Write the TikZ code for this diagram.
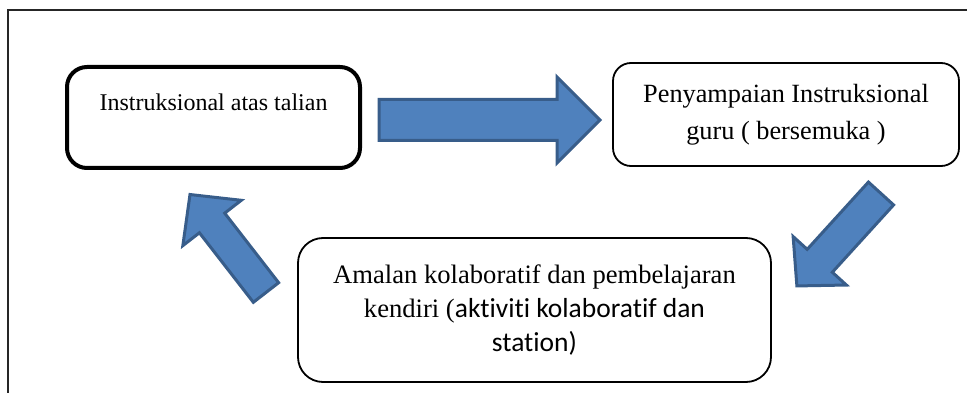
\documentclass[tikz,border=0pt]{standalone}
\usepackage{fontspec}
\setmainfont{Liberation Serif}
\newfontfamily\carlito[Ligatures=NoCommon]{Carlito}
\newcommand\calibpart{\carlito\fontsize{27.5}{34}\selectfont}
\definecolor{arrowfill}{HTML}{4F81BD}
\definecolor{arrowline}{HTML}{385D8A}

\begin{document}
\begin{tikzpicture}[x=1pt,y=-1pt,
	box/.style={draw,rounded corners=20pt,align=center,inner sep=0pt},
	blockarrow/.style={fill=arrowfill,draw=arrowline,line width=3pt,line join=miter}]
		\useasboundingbox (0,0) rectangle (967,393);
		\draw[line width=1.5pt,black!85] (8,393) -- (8,10) -- (967,10);
		\node[box,line width=4pt,minimum width=293pt,minimum height=101pt,text height=16pt,text depth=29pt,font=\fontsize{24}{28}\selectfont] (online) at (213.5,117.5) {Instruksional atas talian};
		\node[box,line width=1.8pt,rounded corners=18pt,minimum width=346pt,minimum height=103pt,font=\fontsize{26.3}{37}\selectfont] (guru) at (786,114.5) {Penyampaian Instruksional\\guru ( bersemuka )};
		\node[box,line width=1.8pt,rounded corners=25pt,minimum width=473pt,minimum height=144pt,font=\fontsize{26.6}{34}\selectfont] (amalan) at (534.5,310) {Amalan kolaboratif dan pembelajaran\\kendiri ({\calibpart aktiviti kolaboratif dan}\\{\calibpart station)}};
		% block arrows
		\draw[blockarrow,shift={(379,120)}] (0,-20.5) -- (178,-20.5) -- (178,-43) -- (221,0) -- (178,43) -- (178,20.5) -- (0,20.5) -- cycle;
		\draw[blockarrow,shift={(881,193.5)},rotate=227.7] (0,-17) -- (91,-17) -- (91,-36) -- (125,0) -- (91,36) -- (91,17) -- (0,17) -- cycle;
		\draw[blockarrow,shift={(266,292.5)},rotate=127.8] (0,-16) -- (88,-16) -- (88,-37) -- (124,0) -- (88,37) -- (88,16) -- (0,16) -- cycle;
\end{tikzpicture}
\end{document}
